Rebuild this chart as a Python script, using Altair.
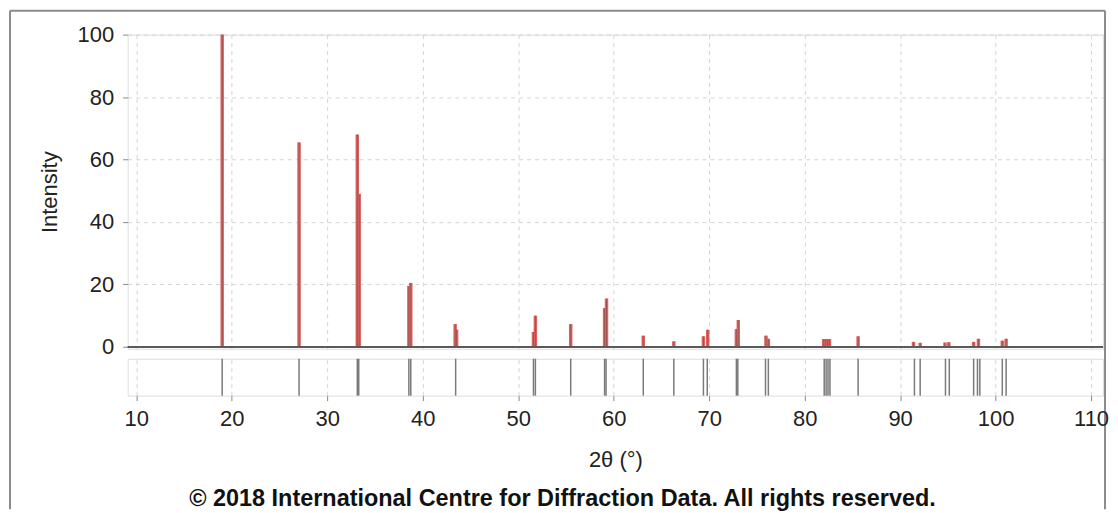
import altair as alt
import pandas as pd

# ---- data ----
peak_pos = [19.0, 27.05, 33.15, 33.35, 38.55, 38.75, 43.4, 43.55, 51.6, 51.8,
            55.5, 59.05, 59.25, 63.1, 66.3, 69.4, 69.85, 72.85, 73.05, 75.95,
            76.2, 82.0, 82.2, 82.4, 82.6, 85.6, 91.4, 92.1, 94.7, 95.1,
            97.7, 98.2, 100.7, 101.1]
peak_int = [100, 65.5, 68, 49, 19.5, 20.5, 7.3, 5.5, 4.8, 10,
            7.3, 12.4, 15.5, 3.6, 1.8, 3.4, 5.5, 5.7, 8.6, 3.6,
            2.6, 2.5, 2.5, 2.5, 2.5, 3.4, 1.6, 1.3, 1.4, 1.5,
            1.6, 2.6, 2.0, 2.6]
stick_pos = [19.0, 27.05, 33.15, 33.3, 38.55, 38.75, 43.45, 51.6, 51.8, 55.5,
             59.05, 59.2, 63.1, 66.3, 69.4, 69.8, 72.85, 73.0, 75.9, 76.2,
             82.05, 82.25, 82.45, 82.65, 85.6, 91.5, 92.1, 94.75, 95.15,
             97.7, 98.1, 98.35, 100.7, 101.1]
x_ticks = [10, 20, 30, 40, 50, 60, 70, 80, 90, 100, 110]
y_ticks = [0, 20, 40, 60, 80, 100]
COPYRIGHT = "© 2018 International Centre for Diffraction Data. All rights reserved."

peaks = pd.DataFrame({"pos": peak_pos, "inten": peak_int})
sticks = pd.DataFrame({"pos": stick_pos})
one = pd.DataFrame({"label": [COPYRIGHT]})

FONT = "Liberation Sans"
XDOM = [9.1, 111.25]
W = 978
H_MAIN = 315
H_STICK = 37

xscale = alt.Scale(domain=XDOM, nice=False, zero=False)

grid_axis_x = alt.Axis(values=x_ticks, labels=False, ticks=False, domain=False,
                       grid=True, gridColor="#d4d4d4", gridDash=[4, 4], title=None)

base_main = alt.Chart(peaks)

main_peaks = base_main.mark_rule(color="#dc6460", strokeWidth=3.5).encode(
    x=alt.X("pos:Q", scale=xscale, axis=grid_axis_x),
    y=alt.Y("inten:Q", scale=alt.Scale(domain=[-0.6, 100], nice=False, zero=False),
            axis=alt.Axis(values=y_ticks, title="Intensity", grid=True,
                          gridColor="#d4d4d4", gridDash=[4, 4], domain=False,
                          tickSize=5, tickColor="#888888", labelPadding=9,
                          labelFontSize=22, labelColor="#222222", labelFont=FONT,
                          titleFontSize=22, titleFont=FONT, titleColor="#222222",
                          titleFontWeight="normal", titlePadding=16)),
    y2=alt.datum(0),
)
main_core = base_main.mark_rule(color="#8a4a48", strokeWidth=1, opacity=0.7).encode(
    x="pos:Q", y="inten:Q", y2=alt.datum(0)
)
main_base = alt.Chart(one).mark_rule(color="#5a5a5a", strokeWidth=2).encode(
    y=alt.datum(0)
)
# outer frame of the whole figure (three visible sides)
BL, BR, BT, BB = -118, 980, -24, 476
frame_left = alt.Chart(one).mark_rule(color="#8c8c8c", strokeWidth=2).encode(
    x=alt.value(BL), y=alt.value(BT), y2=alt.value(BB))
frame_right = alt.Chart(one).mark_rule(color="#8c8c8c", strokeWidth=2).encode(
    x=alt.value(BR), y=alt.value(BT), y2=alt.value(BB))
frame_top = alt.Chart(one).mark_rule(color="#8c8c8c", strokeWidth=2).encode(
    x=alt.value(BL), x2=alt.value(BR), y=alt.value(BT))

main = alt.layer(main_peaks, main_core, main_base,
                 frame_left, frame_right, frame_top).properties(
    width=W, height=H_MAIN
)

stick_rules = alt.Chart(sticks).mark_rule(color="#7a7a7a", strokeWidth=1.5).encode(
    x=alt.X("pos:Q", scale=xscale,
            axis=alt.Axis(values=x_ticks, title="2θ (°)", grid=True,
                          gridColor="#d4d4d4", gridDash=[4, 4], domain=False,
                          tickSize=5, tickColor="#888888", labelPadding=8,
                          labelFontSize=22, labelColor="#222222", labelFont=FONT,
                          titleFontSize=22, titleFont=FONT, titleColor="#222222",
                          titleFontWeight="normal", titlePadding=20)),
    y=alt.value(0),
    y2=alt.value(H_STICK),
)
copyright = alt.Chart(one).mark_text(
    font=FONT, fontSize=23.5, fontWeight="bold", color="#111111",
    align="center", baseline="middle"
).encode(
    x=alt.value(436), y=alt.value(141), text="label:N"
)

stick = alt.layer(stick_rules, copyright).properties(width=W, height=H_STICK)

chart = alt.vconcat(main, stick, spacing=10, bounds="flush").properties(
    padding={"left": 0, "top": 0, "right": 0, "bottom": 0},
).configure_view(
    stroke="#a8a8a8", strokeWidth=1.5
).configure(background="white")

chart.save("out.html", embed_options={"renderer": "svg", "actions": False})
